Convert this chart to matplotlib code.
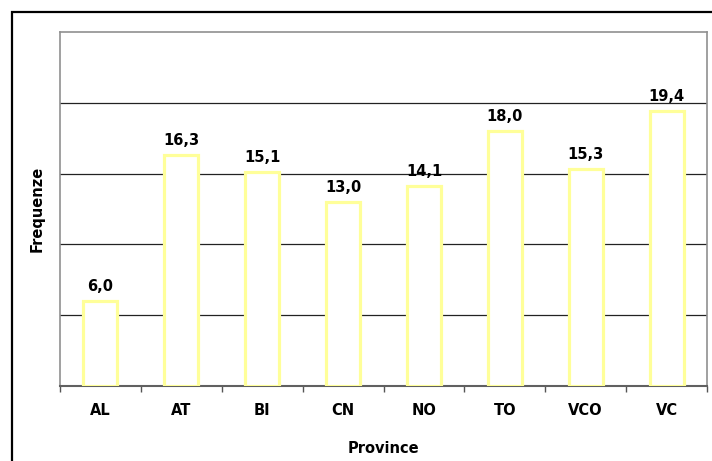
import matplotlib
matplotlib.use("Agg")
import matplotlib.pyplot as plt
from matplotlib.patches import Rectangle

# Frequenze per provincia
province = ["AL", "AT", "BI", "CN", "NO", "TO", "VCO", "VC"]
frequenze = [6.0, 16.3, 15.1, 13.0, 14.1, 18.0, 15.3, 19.4]
gridlines = [5, 10, 15, 20]

plt.rcParams["font.family"] = "DejaVu Sans"

fig = plt.figure(figsize=(7.12, 4.61), dpi=100)
W, H = 712, 461
ax = fig.add_axes([60 / W, 1 - 386 / H, (707 - 60) / W, (386 - 32) / H])

# outer frame (only top/left visible, the rest runs off the canvas)
fig.patches.append(Rectangle((12 / W, -0.1), 1.2, 1 - 12 / H + 0.1,
                             transform=fig.transFigure, fill=False,
                             edgecolor="black", linewidth=1.6, clip_on=False))

x = range(len(province))
ax.bar(x, frequenze, width=0.42, color="white", edgecolor="#ffff99",
       linewidth=2.3, zorder=3)

for xi, v in zip(x, frequenze):
    ax.annotate(f"{v:.1f}".replace(".", ","), (xi, v), xytext=(0, 5),
                textcoords="offset points", ha="center", va="bottom",
                fontsize=10.5, fontweight="bold")

for g in gridlines:
    ax.axhline(g, color="#222222", linewidth=0.9, zorder=1)

ax.set_xlim(-0.5, len(province) - 0.5)
ax.set_ylim(0, 25)
ax.set_yticks([])
ax.set_xticks(list(x))
ax.set_xticklabels(province, fontsize=10.5, fontweight="bold")
ax.tick_params(axis="x", which="major", length=0, pad=12)
ax.set_xticks([i - 0.5 for i in range(len(province) + 1)], minor=True)
ax.tick_params(axis="x", which="minor", length=4, width=1, color="#555555")

for side in ["left", "top", "right"]:
    ax.spines[side].set_color("#909090")
    ax.spines[side].set_linewidth(1.2)
ax.spines["bottom"].set_color("#606060")
ax.spines["bottom"].set_linewidth(1.5)

ax.set_xlabel("Province", fontsize=10.5, fontweight="bold", labelpad=17)
ax.set_ylabel("Frequenze", fontsize=10.5, fontweight="bold", labelpad=11)

fig.savefig("out.png", dpi=100)
